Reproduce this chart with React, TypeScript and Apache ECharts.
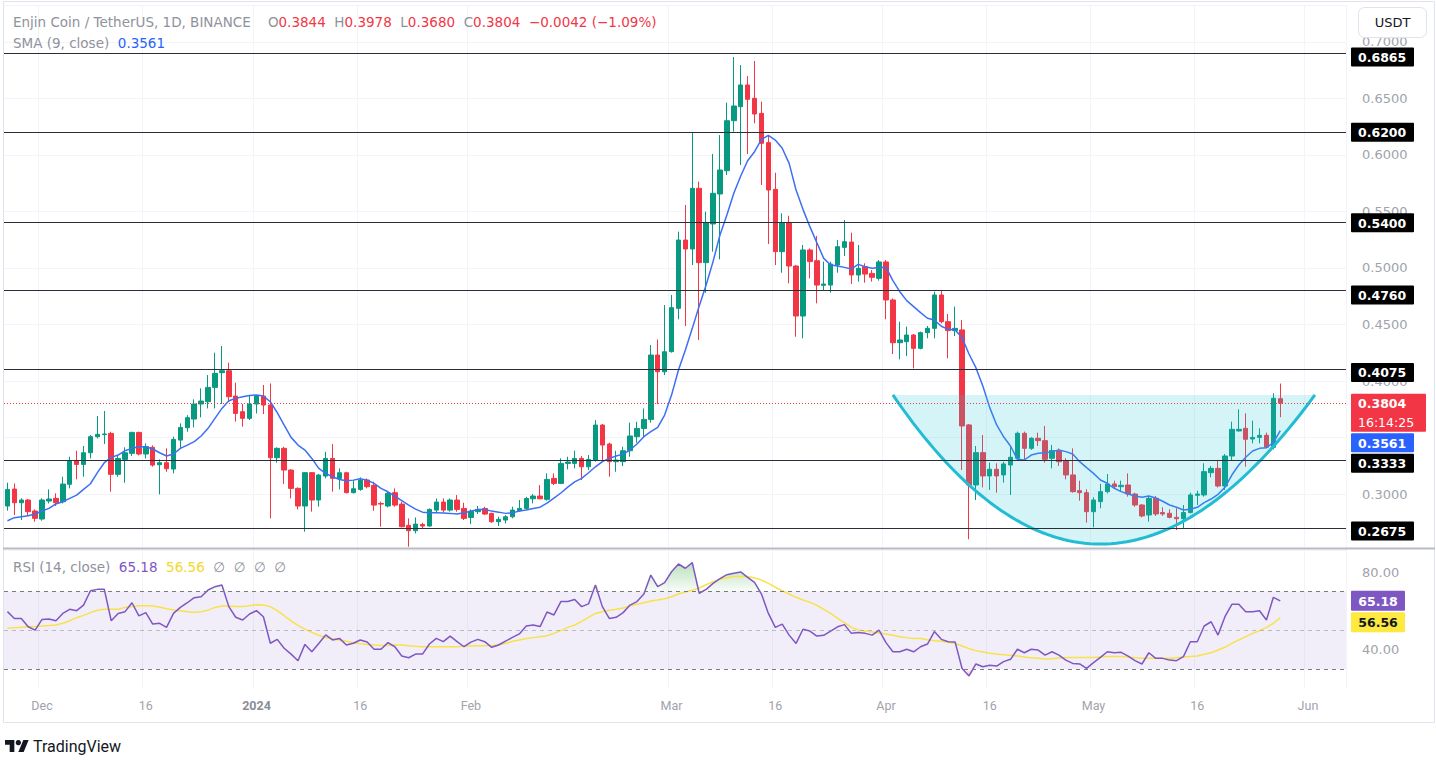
import React, { useEffect, useRef } from "react";
import * as echarts from "echarts";

const FONT = "Roboto, 'Noto Sans', 'DejaVu Sans', sans-serif";
const FONT_W = "'DejaVu Sans', 'Noto Sans', sans-serif";
const UP = "#089981";
const DOWN = "#f23645";

// ---- categories ----
const startDate = "2023-11-26";
const axisDayCount = 194; // Nov 26 2023 .. Jun 6 2024 (empty space right of last candle)

// ---- daily candles (ENJ/USDT, 1D) ----
const openP = [
  0.2895, 0.3045, 0.2924, 0.2948, 0.2851, 0.278, 0.2939, 0.2963, 0.2933, 0.3087,
  0.3296, 0.3263, 0.3366, 0.3508, 0.3526, 0.3537, 0.3175, 0.3307, 0.3361, 0.3546,
  0.3355, 0.3414, 0.326, 0.3278, 0.3222, 0.3478, 0.3587, 0.3664, 0.3797, 0.3817,
  0.3944, 0.4074, 0.4091, 0.3867, 0.3729, 0.367, 0.3797, 0.3867, 0.3788, 0.3322,
  0.3405, 0.3213, 0.3051, 0.2895, 0.319, 0.2948, 0.316, 0.3316, 0.3139, 0.3189,
  0.3013, 0.3042, 0.3125, 0.3077, 0.2918, 0.2895, 0.3013, 0.2912, 0.2724, 0.2677,
  0.2732, 0.2718, 0.2859, 0.293, 0.2859, 0.2948, 0.2874, 0.2794, 0.2845, 0.2874,
  0.283, 0.2756, 0.2771, 0.28, 0.2853, 0.2874, 0.2959, 0.2983, 0.2954, 0.3139,
  0.3095, 0.3272, 0.3272, 0.3316, 0.3242, 0.3301, 0.3611, 0.3443, 0.3287, 0.3287,
  0.3384, 0.3508, 0.3581, 0.3661, 0.423, 0.4082, 0.426, 0.4643, 0.5247, 0.5168,
  0.5704, 0.5047, 0.5389, 0.5654, 0.586, 0.6302, 0.6426, 0.6618, 0.65, 0.6367,
  0.6108, 0.5695, 0.5144, 0.54, 0.5017, 0.4575, 0.5159, 0.5064, 0.4846, 0.4849,
  0.5026, 0.5182, 0.5229, 0.4938, 0.5011, 0.4952, 0.4908, 0.5053, 0.4717, 0.4339,
  0.4348, 0.4407, 0.4289, 0.4428, 0.4466, 0.4761, 0.4525, 0.4446, 0.4452, 0.3612,
  0.3081, 0.3367, 0.3161, 0.322, 0.317, 0.3258, 0.3317, 0.3538, 0.3405, 0.3494,
  0.3473, 0.3317, 0.3385, 0.3296, 0.317, 0.3031, 0.3013, 0.2845, 0.2934, 0.3022,
  0.309, 0.3066, 0.3081, 0.3001, 0.2904, 0.2816, 0.2963, 0.2837, 0.2831, 0.2795,
  0.2783, 0.2837, 0.299, 0.2993, 0.319, 0.3228, 0.3072, 0.3337, 0.3559, 0.3582,
  0.3488, 0.3502, 0.352, 0.3414, 0.3844,
];
const highP = [
  0.3101, 0.3095, 0.2963, 0.2957, 0.2865, 0.2963, 0.3042, 0.3007, 0.3154, 0.3331,
  0.3384, 0.3425, 0.3523, 0.3691, 0.3735, 0.3552, 0.3337, 0.3414, 0.3552, 0.3552,
  0.3449, 0.3431, 0.3307, 0.3405, 0.3508, 0.3626, 0.3699, 0.3838, 0.3935, 0.4053,
  0.4251, 0.431, 0.4162, 0.3985, 0.3797, 0.3876, 0.3876, 0.3965, 0.3979, 0.3414,
  0.3419, 0.3219, 0.306, 0.3195, 0.3195, 0.3178, 0.3375, 0.3443, 0.3228, 0.3198,
  0.3125, 0.3148, 0.3139, 0.311, 0.2933, 0.3021, 0.3051, 0.2933, 0.2786, 0.2794,
  0.2747, 0.2874, 0.2962, 0.2962, 0.2962, 0.2992, 0.2924, 0.2865, 0.2895, 0.2889,
  0.2836, 0.28, 0.2815, 0.2889, 0.2948, 0.2977, 0.3001, 0.308, 0.3184, 0.3184,
  0.3316, 0.3331, 0.3384, 0.3337, 0.3346, 0.3655, 0.362, 0.3455, 0.3384, 0.3419,
  0.3632, 0.364, 0.3758, 0.4318, 0.4368, 0.4672, 0.4761, 0.5321, 0.5557, 0.6196,
  0.5763, 0.5498, 0.6008, 0.6175, 0.6461, 0.6865, 0.6794, 0.6697, 0.683, 0.647,
  0.6167, 0.5842, 0.5483, 0.5462, 0.5026, 0.5203, 0.5173, 0.5283, 0.5056, 0.5056,
  0.5247, 0.5424, 0.5312, 0.5203, 0.5041, 0.4982, 0.507, 0.507, 0.4731, 0.4525,
  0.4481, 0.4416, 0.4437, 0.4487, 0.479, 0.4805, 0.4593, 0.4658, 0.454, 0.362,
  0.3426, 0.3523, 0.3279, 0.3273, 0.3287, 0.342, 0.3553, 0.3553, 0.3503, 0.3544,
  0.3603, 0.3435, 0.3405, 0.3317, 0.3405, 0.3119, 0.3043, 0.2972, 0.309, 0.3178,
  0.3119, 0.3119, 0.3184, 0.3013, 0.2913, 0.2984, 0.2984, 0.2884, 0.2866, 0.2875,
  0.2904, 0.3013, 0.3031, 0.3273, 0.3249, 0.3302, 0.3355, 0.3641, 0.375, 0.3715,
  0.365, 0.3582, 0.3544, 0.3892, 0.3978,
];
const lowP = [
  0.2854, 0.2815, 0.2771, 0.2807, 0.2756, 0.2765, 0.2918, 0.2895, 0.2918, 0.3051,
  0.3131, 0.3154, 0.3316, 0.3493, 0.3443, 0.3022, 0.3154, 0.3101, 0.3337, 0.3343,
  0.3316, 0.3243, 0.2998, 0.3198, 0.3184, 0.3405, 0.3552, 0.359, 0.3679, 0.3758,
  0.3758, 0.3797, 0.3817, 0.3641, 0.3596, 0.3655, 0.3714, 0.3708, 0.2786, 0.3278,
  0.3089, 0.2963, 0.2865, 0.2668, 0.2845, 0.2889, 0.314, 0.3022, 0.3042, 0.3007,
  0.3007, 0.303, 0.3051, 0.2853, 0.2712, 0.2883, 0.2889, 0.2706, 0.2535, 0.2653,
  0.2697, 0.2712, 0.283, 0.2836, 0.2845, 0.2845, 0.2771, 0.2735, 0.2824, 0.2815,
  0.2747, 0.2718, 0.2741, 0.2786, 0.2845, 0.2865, 0.2918, 0.2954, 0.2942, 0.308,
  0.3089, 0.3219, 0.3228, 0.3125, 0.3213, 0.3287, 0.3301, 0.3154, 0.3198, 0.3248,
  0.3331, 0.3455, 0.3502, 0.3632, 0.3796, 0.4053, 0.4251, 0.4546, 0.4487, 0.5026,
  0.4363, 0.4781, 0.5144, 0.5076, 0.5822, 0.6205, 0.591, 0.6007, 0.6279, 0.5733,
  0.5212, 0.5026, 0.4958, 0.4864, 0.4392, 0.4378, 0.4908, 0.4687, 0.4805, 0.4781,
  0.4958, 0.5106, 0.4858, 0.4879, 0.487, 0.4879, 0.4888, 0.4546, 0.4239, 0.4192,
  0.4221, 0.4112, 0.428, 0.4378, 0.4378, 0.451, 0.4201, 0.4398, 0.3214, 0.2601,
  0.2948, 0.306, 0.3037, 0.3013, 0.3102, 0.2993, 0.3296, 0.3308, 0.3391, 0.3426,
  0.3279, 0.3228, 0.3249, 0.3131, 0.3013, 0.2942, 0.2748, 0.2707, 0.2875, 0.3007,
  0.3052, 0.3022, 0.2978, 0.2889, 0.2795, 0.2757, 0.2807, 0.2807, 0.2786, 0.2683,
  0.2698, 0.2831, 0.2904, 0.2978, 0.3149, 0.306, 0.3037, 0.3296, 0.3553, 0.3243,
  0.3449, 0.3449, 0.3405, 0.3396, 0.368,
];
const closeP = [
  0.3042, 0.2924, 0.2948, 0.2845, 0.2786, 0.2948, 0.2957, 0.2924, 0.3089, 0.3296,
  0.3263, 0.3366, 0.3508, 0.3529, 0.3532, 0.3175, 0.3316, 0.3366, 0.3546, 0.3355,
  0.342, 0.3257, 0.3278, 0.3225, 0.3484, 0.359, 0.3676, 0.3797, 0.3823, 0.3944,
  0.4068, 0.4091, 0.3862, 0.3714, 0.367, 0.3797, 0.3867, 0.3788, 0.3322, 0.3405,
  0.3213, 0.3051, 0.2895, 0.319, 0.2948, 0.3169, 0.3316, 0.314, 0.3189, 0.3013,
  0.3048, 0.3125, 0.3066, 0.2903, 0.2912, 0.3007, 0.2903, 0.2712, 0.2677, 0.2735,
  0.2718, 0.2865, 0.293, 0.2859, 0.2948, 0.2865, 0.2786, 0.285, 0.2865, 0.2824,
  0.2756, 0.2777, 0.28, 0.2859, 0.2874, 0.2962, 0.2983, 0.2959, 0.313, 0.3095,
  0.3272, 0.3284, 0.3316, 0.3242, 0.3307, 0.3611, 0.3434, 0.3287, 0.3301, 0.3384,
  0.3514, 0.3581, 0.3661, 0.423, 0.4082, 0.4259, 0.4649, 0.5247, 0.5168, 0.5704,
  0.5047, 0.54, 0.566, 0.5866, 0.6302, 0.6432, 0.6618, 0.6491, 0.6361, 0.6102,
  0.5689, 0.5144, 0.54, 0.5017, 0.4575, 0.5159, 0.5056, 0.4849, 0.4858, 0.5035,
  0.5188, 0.5232, 0.4938, 0.4997, 0.4946, 0.4917, 0.5053, 0.4717, 0.4339, 0.4363,
  0.4407, 0.4289, 0.4428, 0.4466, 0.4761, 0.4525, 0.4446, 0.4466, 0.3603, 0.3081,
  0.3367, 0.3161, 0.322, 0.3161, 0.3267, 0.3326, 0.3538, 0.3405, 0.3494, 0.3473,
  0.3308, 0.3385, 0.3287, 0.317, 0.3022, 0.3013, 0.2845, 0.2948, 0.3022, 0.309,
  0.3066, 0.3078, 0.3001, 0.2904, 0.2807, 0.2963, 0.2825, 0.2825, 0.2795, 0.2783,
  0.2837, 0.2993, 0.3001, 0.3199, 0.3228, 0.3072, 0.3337, 0.3573, 0.3573, 0.3485,
  0.3502, 0.352, 0.3414, 0.3847, 0.3804,
];

// ---- SMA(9, close) as drawn ----
const sma9 = [
  0.2765, 0.2792, 0.2801, 0.2809, 0.2824, 0.2851, 0.2874, 0.2913, 0.2933, 0.2963,
  0.2992, 0.3042, 0.3092, 0.3190, 0.3278, 0.3325, 0.3346, 0.3384, 0.3405, 0.3419,
  0.3419, 0.3399, 0.3366, 0.3337, 0.3355, 0.3405, 0.3434, 0.3464, 0.3514, 0.3582,
  0.367, 0.3758, 0.3826, 0.3847, 0.3862, 0.3873, 0.3876, 0.3867, 0.3817, 0.372,
  0.3611, 0.3502, 0.3434, 0.339, 0.3316, 0.3228, 0.3184, 0.3154, 0.313, 0.3118,
  0.3124, 0.3136, 0.3124, 0.3095, 0.3051, 0.3021, 0.2983, 0.2942, 0.2903, 0.2868,
  0.2841, 0.2836, 0.2836, 0.2833, 0.283, 0.2824, 0.2836, 0.285, 0.2865, 0.2865,
  0.285, 0.2841, 0.283, 0.2836, 0.285, 0.2859, 0.2874, 0.2885, 0.292, 0.2965,
  0.301, 0.3062, 0.3108, 0.3139, 0.3189, 0.3242, 0.3287, 0.3316, 0.3337, 0.3354,
  0.339, 0.3443, 0.3508, 0.3552, 0.359, 0.3699, 0.3876, 0.4098, 0.4275, 0.4466,
  0.4664, 0.4849, 0.5056, 0.5291, 0.5468, 0.566, 0.5813, 0.5948, 0.6028, 0.6137,
  0.6172, 0.6131, 0.6058, 0.5925, 0.5689, 0.5518, 0.5365, 0.5224, 0.5085, 0.5026,
  0.5017, 0.5005, 0.4991, 0.5032, 0.5011, 0.4997, 0.5005, 0.5005, 0.4888, 0.479,
  0.4711, 0.4658, 0.4605, 0.4555, 0.454, 0.4485, 0.4457, 0.4452, 0.4384, 0.4239,
  0.4118, 0.3956, 0.3765, 0.3612, 0.3508, 0.3426, 0.3308, 0.3302, 0.3346, 0.3361,
  0.3367, 0.3376, 0.339, 0.3376, 0.3355, 0.3287, 0.3234, 0.3184, 0.3125, 0.3096,
  0.3052, 0.3022, 0.3001, 0.2984, 0.2972, 0.2984, 0.2966, 0.2937, 0.2904, 0.2884,
  0.286, 0.2866, 0.2884, 0.2925, 0.2957, 0.2999, 0.306, 0.3169, 0.3258, 0.3326,
  0.3382, 0.3405, 0.3411, 0.3455, 0.3561,
];

// ---- RSI(14, close) and its moving average, as drawn ----
const rsi14 = [
  59.6, 56.1, 56.1, 51.8, 50.1, 55.6, 55.8, 54.9, 58.7, 60.8,
  60.1, 63.0, 70.4, 71.1, 71.1, 54.9, 58.7, 59.6, 64.2, 57.4,
  59.1, 53.2, 53.6, 51.5, 58.7, 61.8, 64.2, 66.8, 67.3, 70.8,
  72.5, 73.4, 62.2, 56.7, 55.3, 58.4, 60.1, 57.0, 43.3, 45.3,
  40.7, 37.7, 34.3, 42.7, 38.9, 43.2, 47.6, 45.0, 45.8, 42.4,
  43.3, 45.0, 43.9, 40.2, 40.2, 43.6, 41.5, 36.7, 35.8, 37.7,
  37.7, 42.9, 45.8, 44.1, 47.0, 44.1, 41.5, 43.9, 45.3, 44.1,
  41.2, 42.4, 44.4, 46.3, 48.1, 52.2, 52.7, 51.9, 59.4, 57.9,
  64.8, 64.8, 65.9, 62.2, 63.6, 73.4, 62.2, 56.1, 56.7, 59.1,
  63.0, 64.8, 68.7, 78.5, 72.5, 74.6, 80.2, 84.2, 82.0, 84.9,
  69.1, 71.1, 74.2, 76.6, 78.7, 79.4, 80.1, 77.3, 74.7, 68.7,
  58.7, 51.5, 53.2, 47.5, 43.2, 50.5, 49.6, 47.0, 47.4, 49.6,
  51.8, 52.9, 48.4, 48.9, 48.4, 47.5, 50.1, 43.6, 38.9, 38.9,
  40.2, 38.9, 41.5, 42.9, 49.3, 45.3, 44.1, 43.9, 30.3, 26.4,
  32.6, 31.2, 31.9, 31.5, 33.8, 35.0, 40.2, 38.4, 40.2, 39.8,
  37.2, 38.9, 37.2, 34.6, 32.9, 32.6, 30.3, 33.3, 36.0, 38.9,
  38.4, 38.6, 36.7, 34.3, 32.6, 38.4, 35.5, 35.5, 34.6, 34.3,
  36.4, 44.1, 44.1, 52.2, 54.4, 47.5, 57.0, 63.4, 63.4, 59.6,
  59.6, 60.1, 55.3, 67.0, 65.18,
];
const rsiMa = [
  51.2, 51.3, 51.5, 51.8, 52.0, 52.2, 52.4, 52.7, 53.6, 54.9,
  56.5, 57.7, 59.1, 60.3, 60.8, 60.8, 60.8, 61.8, 62.3, 62.7,
  62.7, 62.5, 62.0, 61.1, 60.4, 60.1, 59.6, 59.3, 59.6, 60.4,
  61.8, 62.5, 62.5, 62.3, 62.2, 62.7, 63.2, 63.0, 62.2, 60.1,
  57.5, 54.8, 52.5, 50.6, 48.9, 47.4, 46.3, 45.6, 45.0, 44.3,
  43.6, 43.1, 42.7, 42.4, 42.2, 42.2, 42.4, 42.4, 42.0, 41.7,
  41.5, 41.5, 41.5, 41.5, 41.5, 41.5, 41.9, 41.9, 42.0, 42.0,
  42.0, 42.7, 43.2, 44.3, 45.0, 45.7, 46.2, 46.7, 47.2, 48.4,
  49.8, 51.5, 52.7, 54.6, 56.7, 58.7, 59.6, 60.3, 60.8, 61.5,
  62.5, 63.4, 64.2, 65.1, 65.6, 66.3, 67.3, 68.7, 69.7, 70.6,
  71.8, 73.5, 75.1, 76.3, 77.1, 77.7, 77.7, 77.7, 77.0, 75.9,
  74.2, 72.2, 70.4, 68.7, 67.0, 65.6, 64.4, 62.9, 60.8, 58.7,
  56.1, 53.9, 51.5, 50.1, 49.6, 49.1, 48.6, 48.1, 47.4, 46.7,
  46.2, 45.8, 45.7, 45.1, 44.6, 44.3, 43.8, 43.2, 41.9, 40.5,
  39.5, 38.8, 38.1, 37.8, 37.4, 37.1, 36.7, 36.2, 35.8, 35.5,
  35.2, 35.3, 35.7, 36.0, 36.0, 36.0, 36.0, 36.0, 36.2, 36.4,
  36.4, 36.4, 36.2, 35.8, 35.5, 35.5, 35.5, 35.5, 35.5, 35.8,
  36.2, 36.5, 36.7, 37.6, 38.4, 39.8, 41.2, 43.2, 45.0, 46.7,
  48.4, 49.8, 51.5, 53.6, 56.56,
];

// ---- horizontal levels and annotations ----
const levels = [0.6865, 0.62, 0.54, 0.476, 0.4075, 0.3333, 0.2675];
const lastPrice = 0.3804;
const countdown = "16:14:25";
const lastSma = 0.3561;
const lastRsi = 65.18;
const lastRsiMa = 56.56;
const legendOHLC = ["0.3844", "0.3978", "0.3680", "0.3804"];
const legendChange = "−0.0042 (−1.09%)";
const rsiBands = [70, 50, 30];
const cupDates = ["2024-04-02", "2024-05-02", "2024-06-02"];
const cupPrices = [0.3877, 0.2559, 0.3877];
const hiddenPriceTicks = [0.25, 0.35]; // covered by badges in the reference

// ---- time-axis ticks ----
const tickDates = [
  "2023-12-01", "2023-12-16", "2024-01-01", "2024-01-16", "2024-02-01", "2024-03-01",
  "2024-03-16", "2024-04-01", "2024-04-16", "2024-05-01", "2024-05-16", "2024-06-01",
];
const tickLabels = ["Dec", "16", "2024", "16", "Feb", "Mar", "16", "Apr", "16", "May", "16", "Jun"];

function buildDates(start: string, n: number): string[] {
  const out: string[] = [];
  const d = new Date(start + "T00:00:00Z");
  for (let i = 0; i < n; i++) {
    out.push(d.toISOString().slice(0, 10));
    d.setUTCDate(d.getUTCDate() + 1);
  }
  return out;
}
const dates = buildDates(startDate, axisDayCount);
const tickSet = new Set(tickDates);

const GRID_LEFT = 4;
const GRID_RIGHT = 90;
const AXIS_GRAY = "#a0a3ab";
const LEGEND_GRAY = "#8f929b";
const LEG_FS = 13.5;

function baseOption(): any {
  const candles = openP.map((o, i) => [o, closeP[i], lowP[i], highP[i]]);
  const tickInterval = (_i: number, v: string) => tickSet.has(v);
  const ob = rsi14.map((v) => Math.max(v, 70));
  const os = rsi14.map((v) => Math.min(v, 30));
  return {
    animation: false,
    backgroundColor: "#ffffff",
    textStyle: { fontFamily: FONT },
    grid: [
      { left: GRID_LEFT, right: GRID_RIGHT, top: 5, height: 545.7 },
      { left: GRID_LEFT, right: GRID_RIGHT, top: 548, height: 140.4 },
    ],
    xAxis: [
      {
        type: "category",
        gridIndex: 0,
        data: dates,
        boundaryGap: true,
        axisLine: { show: false },
        axisTick: { show: false },
        axisLabel: { show: false },
        splitLine: { show: true, interval: tickInterval, lineStyle: { color: "#f3f4f7", width: 1 } },
      },
      {
        type: "category",
        gridIndex: 1,
        data: dates,
        boundaryGap: true,
        axisLine: { show: false },
        axisTick: { show: false },
        axisLabel: {
          show: true,
          interval: tickInterval,
          margin: 11,
          color: AXIS_GRAY,
          fontSize: 12.5,
          fontFamily: FONT,
          formatter: (v: string) => {
            const k = tickDates.indexOf(v);
            const lab = k >= 0 ? tickLabels[k] : "";
            return lab === "2024" ? "{b|" + lab + "}" : lab;
          },
          rich: { b: { fontWeight: "bold", color: "#8a8d96", fontSize: 12.5, fontFamily: FONT } },
        },
        splitLine: { show: true, interval: tickInterval, lineStyle: { color: "#f3f4f7", width: 1 } },
      },
    ],
    yAxis: [
      {
        type: "value",
        gridIndex: 0,
        position: "right",
        min: 0.25,
        max: 0.7325,
        interval: 0.05,
        axisLine: { show: false },
        axisTick: { show: false },
        axisLabel: {
          margin: 16,
          color: AXIS_GRAY,
          fontSize: 13,
          fontFamily: FONT_W,
          formatter: (v: number) => {
            const onGrid = Math.abs(v * 20 - Math.round(v * 20)) < 1e-6;
            const hidden = hiddenPriceTicks.some((h) => Math.abs(h - v) < 1e-6);
            return onGrid && !hidden ? Number(v).toFixed(4) : "";
          },
        },
        splitLine: { show: true, lineStyle: { color: "#f3f4f7", width: 1 } },
      },
      {
        type: "value",
        gridIndex: 1,
        position: "right",
        min: 20,
        max: 92.45,
        interval: 20,
        axisLine: { show: false },
        axisTick: { show: false },
        axisLabel: {
          margin: 16,
          color: AXIS_GRAY,
          fontSize: 13,
          fontFamily: FONT_W,
          formatter: (v: number) => (v === 40 || v === 80 ? Number(v).toFixed(2) : ""),
        },
        splitLine: { show: false },
      },
    ],
    series: [
      {
        name: "ENJUSDT",
        type: "candlestick",
        xAxisIndex: 0,
        yAxisIndex: 0,
        data: candles,
        barWidth: 5,
        z: 2,
        itemStyle: { color: UP, color0: DOWN, borderColor: UP, borderColor0: DOWN, borderWidth: 1 },
      },
      {
        name: "SMA 9",
        type: "line",
        xAxisIndex: 0,
        yAxisIndex: 0,
        data: sma9,
        symbol: "none",
        z: 3,
        lineStyle: { color: "#3d6ff5", width: 1.5 },
      },
      {
        name: "cup",
        type: "custom",
        xAxisIndex: 0,
        yAxisIndex: 0,
        z: 4,
        data: [[dates.indexOf(cupDates[1]), cupPrices[1]]],
        encode: { x: 0, y: 1 },
        renderItem: (_params: any, api: any) => {
          const p0 = api.coord([dates.indexOf(cupDates[0]), cupPrices[0]]);
          const pb = api.coord([dates.indexOf(cupDates[1]), cupPrices[1]]);
          const p2 = api.coord([dates.indexOf(cupDates[2]), cupPrices[2]]);
          const c = [2 * pb[0] - (p0[0] + p2[0]) / 2, 2 * pb[1] - (p0[1] + p2[1]) / 2];
          const pts: number[][] = [];
          for (let k = 0; k <= 80; k++) {
            const t = k / 80;
            const a = (1 - t) * (1 - t);
            const b = 2 * t * (1 - t);
            const d = t * t;
            pts.push([a * p0[0] + b * c[0] + d * p2[0], a * p0[1] + b * c[1] + d * p2[1]]);
          }
          return {
            type: "group",
            children: [
              { type: "polygon", shape: { points: pts }, style: { fill: "rgba(38,198,218,0.2)" } },
              { type: "polyline", shape: { points: pts }, style: { stroke: "#22bcd3", lineWidth: 3, fill: "none" } },
            ],
          };
        },
        markLine: {
          silent: true,
          symbol: ["none", "none"],
          label: { show: false },
          data: [
            ...levels.map((v) => ({ yAxis: v, lineStyle: { color: "#2a2e39", width: 1.2, type: "solid" } })),
            { yAxis: lastPrice, lineStyle: { color: DOWN, width: 1, type: [1, 2] } },
          ],
        },
      },
      {
        name: "RSI",
        type: "line",
        xAxisIndex: 1,
        yAxisIndex: 1,
        data: rsi14,
        symbol: "none",
        z: 4,
        lineStyle: { color: "#7e57c2", width: 1.5 },
        markArea: {
          silent: true,
          itemStyle: { color: "rgba(126,87,194,0.1)" },
          data: [[{ yAxis: 30 }, { yAxis: 70 }]],
        },
        markLine: {
          silent: true,
          symbol: ["none", "none"],
          label: { show: false },
          data: rsiBands.map((v) => ({
            yAxis: v,
            lineStyle: { color: v === 50 ? "rgba(120,123,134,0.45)" : "#787b86", width: 1, type: [4, 4] },
          })),
        },
      },
      {
        name: "RSI MA",
        type: "line",
        xAxisIndex: 1,
        yAxisIndex: 1,
        data: rsiMa,
        symbol: "none",
        z: 3,
        lineStyle: { color: "#f7e24a", width: 1.5 },
      },
      {
        name: "overbought",
        type: "line",
        xAxisIndex: 1,
        yAxisIndex: 1,
        data: ob,
        symbol: "none",
        z: 2,
        lineStyle: { width: 0, opacity: 0 },
        areaStyle: {
          origin: 70,
          color: new echarts.graphic.LinearGradient(0, 0, 0, 1, [
            { offset: 0, color: "rgba(76,175,80,0.55)" },
            { offset: 1, color: "rgba(76,175,80,0.05)" },
          ]),
        },
      },
      {
        name: "oversold",
        type: "line",
        xAxisIndex: 1,
        yAxisIndex: 1,
        data: os,
        symbol: "none",
        z: 2,
        lineStyle: { width: 0, opacity: 0 },
        areaStyle: {
          origin: 30,
          color: new echarts.graphic.LinearGradient(0, 0, 0, 1, [
            { offset: 0, color: "rgba(242,54,69,0.05)" },
            { offset: 1, color: "rgba(242,54,69,0.45)" },
          ]),
        },
      },
    ],
  };
}

function overlay(chart: any): any[] {
  const py = (v: number) => chart.convertToPixel({ yAxisIndex: 0 }, v) as number;
  const ry = (v: number) => chart.convertToPixel({ yAxisIndex: 1 }, v) as number;
  const els: any[] = [];
  const Z = 50;

  // frame and pane separator
  els.push({
    type: "rect",
    z: Z,
    shape: { x: 3.5, y: 1.5, width: 1431, height: 721 },
    style: { fill: "transparent", stroke: "#e0e3eb", lineWidth: 1 },
  });
  els.push({
    type: "line",
    z: Z,
    shape: { x1: 3, y1: 548.5, x2: 1435, y2: 548.5 },
    style: { stroke: "#b8bbc3", lineWidth: 2 },
  });

  const legStyle = (fill: string) => ({ fill, fontSize: LEG_FS, fontFamily: FONT_W });

  // legends
  els.push({
    type: "text",
    z: Z,
    x: 13,
    y: 22,
    style: {
      text:
        "{t|Enjin Coin / TetherUS, 1D, BINANCE}    {l|O}{v|" + legendOHLC[0] + "}  {l|H}{v|" + legendOHLC[1] +
        "}  {l|L}{v|" + legendOHLC[2] + "}  {l|C}{v|" + legendOHLC[3] + "}  {v|" + legendChange + "}",
      verticalAlign: "middle",
      fontSize: LEG_FS,
      fontFamily: FONT_W,
      fill: LEGEND_GRAY,
      rich: { t: legStyle(LEGEND_GRAY), l: legStyle(LEGEND_GRAY), v: legStyle(DOWN) },
    },
  });
  els.push({
    type: "text",
    z: Z,
    x: 13,
    y: 43,
    style: {
      text: "{t|SMA (9, close)}  {v|" + lastSma.toFixed(4) + "}",
      verticalAlign: "middle",
      fontSize: LEG_FS,
      fontFamily: FONT_W,
      fill: LEGEND_GRAY,
      rich: { t: legStyle(LEGEND_GRAY), v: legStyle("#2962ff") },
    },
  });
  els.push({
    type: "text",
    z: Z,
    x: 13,
    y: 567,
    style: {
      text:
        "{t|RSI (14, close)}  {p|" + lastRsi.toFixed(2) + "}  {y|" + lastRsiMa.toFixed(2) + "}  {t|∅  ∅  ∅  ∅}",
      verticalAlign: "middle",
      fontSize: LEG_FS,
      fontFamily: FONT_W,
      fill: LEGEND_GRAY,
      rich: { t: legStyle(LEGEND_GRAY), p: legStyle("#7e57c2"), y: legStyle("#f2d82c") },
    },
  });

  // USDT button
  els.push({
    type: "rect",
    z: Z + 6,
    shape: { x: 1358.5, y: 7.5, width: 68, height: 30, r: 6 },
    style: { fill: "#ffffff", stroke: "#e0e3eb", lineWidth: 1 },
  });
  els.push({
    type: "text",
    z: Z + 7,
    x: 1392.5,
    y: 22.5,
    style: { text: "USDT", align: "center", verticalAlign: "middle", fontSize: 13, fontFamily: FONT_W, fill: "#131722" },
  });

  // TradingView logo
  els.push({
    type: "group",
    z: Z,
    x: 5,
    y: 737.3,
    scaleX: 0.667,
    scaleY: 0.667,
    children: [
      { type: "polygon", z: Z, shape: { points: [[0, 4], [14, 4], [14, 22], [7, 22], [7, 11], [0, 11]] }, style: { fill: "#131722" } },
      { type: "circle", z: Z, shape: { cx: 20, cy: 8, r: 4 }, style: { fill: "#131722" } },
      { type: "polygon", z: Z, shape: { points: [[20, 22], [28, 22], [35.5, 4], [27.5, 4]] }, style: { fill: "#131722" } },
    ],
  });
  els.push({
    type: "text",
    z: Z,
    x: 33,
    y: 746.5,
    style: { text: "TradingView", verticalAlign: "middle", fontSize: 16, fontFamily: FONT, fill: "#131722" },
  });

  // price-axis badges (stacked so they do not overlap)
  type Badge = { y: number; h: number; w: number; bg: string; fg: string; lines: string[] };
  const mainBadges: Badge[] = [
    ...levels.map((v) => ({ y: py(v), h: 19, w: 63, bg: "#000000", fg: "#ffffff", lines: [v.toFixed(4)] })),
    { y: py(lastPrice), h: 38, w: 75, bg: DOWN, fg: "#ffffff", lines: [lastPrice.toFixed(4), countdown] },
    { y: py(lastSma), h: 19, w: 63, bg: "#2962ff", fg: "#ffffff", lines: [lastSma.toFixed(4)] },
  ].sort((a, b) => a.y - b.y);
  let prevBottom = -1e9;
  for (const b of mainBadges) {
    let top = b.y - 9.5;
    if (top < prevBottom + 1.5) top = prevBottom + 1.5;
    prevBottom = top + b.h;
    els.push({
      type: "rect",
      z: Z + 4,
      shape: { x: 1351, y: top, width: b.w, height: b.h, r: 1 },
      style: { fill: b.bg },
    });
    b.lines.forEach((t, k) => {
      els.push({
        type: "text",
        z: Z + 5,
        x: 1358,
        y: top + 9.8 + k * 18.5,
        style: {
          text: t,
          verticalAlign: "middle",
          fontSize: 12.5,
          fontWeight: k === 0 ? "bold" : "normal",
          fontFamily: FONT_W,
          fill: b.fg,
        },
      });
    });
  }

  const rsiBadges: Badge[] = [
    { y: ry(lastRsi), h: 20, w: 54, bg: "#7e57c2", fg: "#ffffff", lines: [lastRsi.toFixed(2)] },
    { y: ry(lastRsiMa), h: 20, w: 54, bg: "#fde93f", fg: "#131722", lines: [lastRsiMa.toFixed(2)] },
  ].sort((a, b) => a.y - b.y);
  prevBottom = -1e9;
  for (const b of rsiBadges) {
    let top = b.y - 10;
    if (top < prevBottom + 1.5) top = prevBottom + 1.5;
    prevBottom = top + b.h;
    els.push({ type: "rect", z: Z + 4, shape: { x: 1351, y: top, width: b.w, height: b.h, r: 1 }, style: { fill: b.bg } });
    els.push({
      type: "text",
      z: Z + 5,
      x: 1351 + b.w / 2,
      y: top + 10.3,
      style: {
        text: b.lines[0],
        align: "center",
        verticalAlign: "middle",
        fontSize: 12.5,
        fontWeight: "bold",
        fontFamily: FONT_W,
        fill: b.fg,
      },
    });
  }
  return els;
}

export default function App() {
  const ref = useRef<HTMLDivElement>(null);
  useEffect(() => {
    if (!ref.current) return;
    const chart = echarts.init(ref.current, null, { renderer: "svg" });
    chart.setOption(baseOption());
    chart.setOption({ graphic: { elements: overlay(chart) } });
    return () => chart.dispose();
  }, []);
  return (
    <div
      ref={ref}
      style={{ position: "fixed", left: 0, top: 0, width: 1436, height: 761, background: "#ffffff" }}
    />
  );
}
